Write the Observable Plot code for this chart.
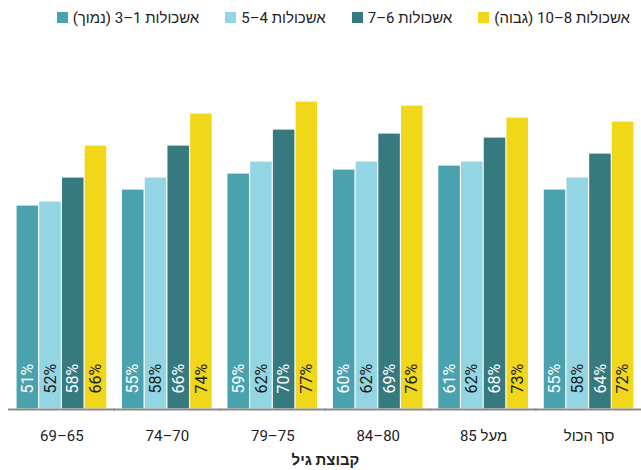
<!DOCTYPE html>
<html lang="he"><head><meta charset="utf-8">
<script src="https://cdn.jsdelivr.net/npm/d3@7"></script>
<script src="https://cdn.jsdelivr.net/npm/@observablehq/plot@0.6"></script>
<style>
body{margin:0;background:#fff;font-family:Roboto,"Liberation Sans",sans-serif;}
#legend{height:35px;display:flex;justify-content:flex-end;align-items:center;gap:26px;padding-right:11px;font-size:15px;color:#222;box-sizing:border-box;}
.item{display:flex;align-items:center;gap:5px;white-space:nowrap}
.sw{width:11px;height:11px;display:inline-block}
[aria-label^="fx-axis"] text{direction:rtl;unicode-bidi:embed;}
[aria-label="fx-axis label"] text{font-weight:bold;}
</style></head><body>
<div id="legend"></div><div id="chart"></div>
<script>
const groups = ["65–69","70–74","75–79","80–84","מעל 85","סך הכול"];
const series = ["אשכולות 1–3 (נמוך)","אשכולות 4–5","אשכולות 6–7","אשכולות 8–10 (גבוה)"];
const low     = [51,55,59,60,61,55];
const midLow  = [52,58,62,62,62,58];
const midHigh = [58,66,70,69,68,64];
const high    = [66,74,77,76,73,72];
const colors = ["#4aa2ae","#93d5e3","#36797f","#f0d719"];
const axisTitle = "קבוצת גיל";

const seriesValues = [low, midLow, midHigh, high];
const data = [];
groups.forEach((g, i) => seriesValues.forEach((arr, j) => data.push({group: g, series: series[j], value: arr[i], k: j})));

// legend
const legend = document.getElementById("legend");
series.forEach((s, j) => {
  const item = document.createElement("div");
  item.className = "item";
  const sw = document.createElement("span");
  sw.className = "sw"; sw.style.background = colors[j];
  const lab = document.createElement("span");
  lab.dir = "rtl"; lab.textContent = s;
  item.appendChild(sw); item.appendChild(lab);
  legend.appendChild(item);
});

const chart = Plot.plot({
  width: 641, height: 435,
  marginTop: 54, marginBottom: 61, marginLeft: 9, marginRight: 0,
  style: {fontFamily: 'Roboto,"Liberation Sans",sans-serif', fontSize: "15px", color: "#222", background: "#fff"},
  fx: {domain: groups, paddingInner: 0.138, paddingOuter: 0.066, round: false},
  x: {domain: series, padding: 0, round: false, axis: null},
  y: {domain: [0, 80], axis: null},
  color: {domain: series, range: colors},
  marks: [
    Plot.barY(data, {fx: "group", x: "series", y: "value", fill: "series", inset: 0.6}),
    Plot.text(data.filter(d => d.k % 2 === 0), {fx: "group", x: "series", y: 0, text: d => d.value + "%", rotate: -90, textAnchor: "start", dy: -16, fill: "#fff", fontSize: 16}),
    Plot.text(data.filter(d => d.k % 2 === 1), {fx: "group", x: "series", y: 0, text: d => d.value + "%", rotate: -90, textAnchor: "start", dy: -16, fill: "#1a1a1a", fontSize: 16}),
    Plot.ruleY([0], {stroke: "#8a8a8a", strokeWidth: 2, insetLeft: -8, insetRight: -8}),
    Plot.axisFx({anchor: "bottom", tickSize: 0, tickPadding: 21, fontSize: 15, fill: "#222", label: axisTitle, labelAnchor: "center", labelOffset: 55})
  ]
});
document.getElementById("chart").appendChild(chart);
</script>
</body></html>
